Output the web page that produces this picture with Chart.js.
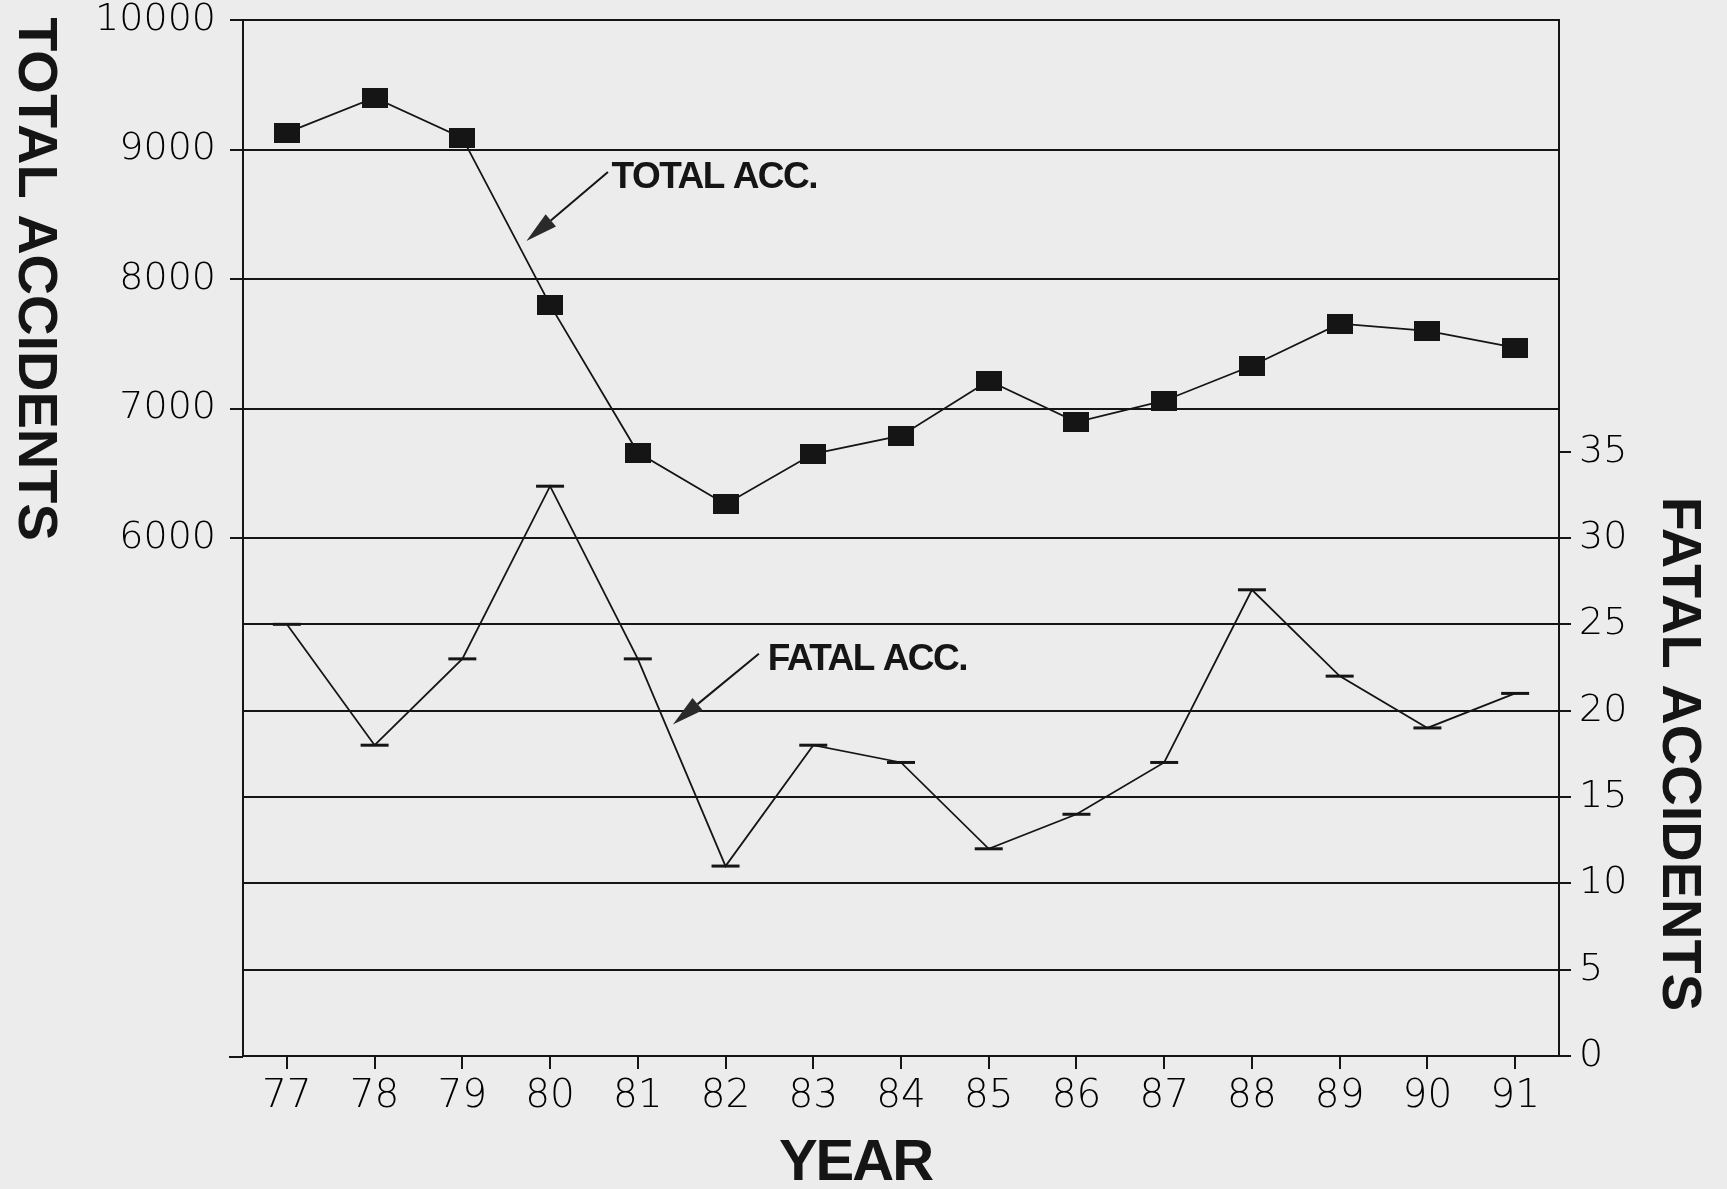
<!DOCTYPE html>
<html>
<head>
<meta charset="utf-8">
<script src="https://cdn.jsdelivr.net/npm/chart.js@4.4.1/dist/chart.umd.min.js"></script>
<style>
  html, body { margin: 0; padding: 0; background: #ececec; }
  #wrap { width: 1727px; height: 1189px; position: relative; }
</style>
</head>
<body>
<div id="wrap"><canvas id="chart"></canvas></div>
<script>
// ── data ────────────────────────────────────────────────
const years = ['77', '78', '79', '80', '81', '82', '83', '84', '85', '86', '87', '88', '89', '90', '91'];
const totalAccidents = [9130, 9400, 9090, 7800, 6660, 6260, 6650, 6790, 7215, 6895, 7060, 7330, 7655, 7600, 7470];
const fatalAccidents = [25, 18, 23, 33, 23, 11, 18, 17, 12, 14, 17, 27, 22, 19, 21];

// axis ranges and the part of each axis that is labelled
const totalAxis = { min: 2000, max: 10000, step: 1000, labelFrom: 6000 };
const fatalAxis = { min: 0, max: 60, step: 5, labelTo: 35, lineTo: 30 };

// callouts: [text, label x (category index), label baseline, arrow tail x, tail y, tip x, tip y, axis]
const callouts = [
  ['TOTAL ACC.', 3.70, 8703, 3.66, 8826, 2.73, 8293, 'y'],
  ['FATAL ACC.', 5.48, 22.35, 5.38, 23.3, 4.40, 19.2, 'y1'],
];

const INK = '#151515';
const TICK_FONT = '"DejaVu Sans", "Liberation Sans", sans-serif';
const TICK_INK = '#000';

// filled square marker, a bit wider than tall
const squareMark = document.createElement('canvas');
squareMark.width = 26;
squareMark.height = 20;
(() => {
  const c = squareMark.getContext('2d');
  c.fillStyle = INK;
  c.fillRect(0, 0, 26, 20);
})();

function arrow(ctx, x0, y0, x1, y1) {
  const ang = Math.atan2(y1 - y0, x1 - x0);
  const len = 32, half = 8;
  const bx = x1 - Math.cos(ang) * len, by = y1 - Math.sin(ang) * len;
  ctx.beginPath();
  ctx.moveTo(x0, y0);
  ctx.lineTo(bx, by);
  ctx.lineWidth = 2;
  ctx.strokeStyle = INK;
  ctx.stroke();
  ctx.beginPath();
  ctx.moveTo(x1, y1);
  ctx.lineTo(bx - Math.sin(ang) * half, by + Math.cos(ang) * half);
  ctx.lineTo(bx + Math.sin(ang) * half, by - Math.cos(ang) * half);
  ctx.closePath();
  ctx.fillStyle = '#2a2a2a';
  ctx.fill();
}

const paperPlugin = {
  id: 'paper',
  beforeDraw(chart) {
    const ctx = chart.ctx;
    ctx.save();
    ctx.fillStyle = '#ececec';
    ctx.fillRect(0, 0, chart.width, chart.height);
    ctx.restore();
  },
};

const labelsPlugin = {
  id: 'labels',
  afterDatasetsDraw(chart) {
    const { ctx, scales } = chart;
    const x = scales.x, y = scales.y, y1 = scales.y1;
    ctx.save();
    ctx.fillStyle = INK;

    // x axis line runs a little past the left axis
    ctx.beginPath();
    ctx.moveTo(x.left - 14, x.top + 1);
    ctx.lineTo(x.left, x.top + 1);
    ctx.lineWidth = 2;
    ctx.strokeStyle = INK;
    ctx.stroke();

    // callouts with arrows
    ctx.font = 'bold 37px "Liberation Sans", Arial, sans-serif';
    ctx.letterSpacing = '-1.5px';
    ctx.textBaseline = 'alphabetic';
    ctx.textAlign = 'left';
    callouts.forEach(([text, lx, ly, tx, ty, hx, hy, axis]) => {
      const s = scales[axis];
      arrow(ctx, x.getPixelForValue(tx), s.getPixelForValue(ty), x.getPixelForValue(hx), s.getPixelForValue(hy));
      ctx.fillStyle = INK;
      ctx.fillText(text, x.getPixelForValue(lx), s.getPixelForValue(ly));
    });

    // axis titles, both turned clockwise
    ctx.font = 'bold 56px "Liberation Sans", Arial, sans-serif';
    ctx.letterSpacing = '0px';
    ctx.textAlign = 'center';
    const leftMid = (y.getPixelForValue(totalAxis.max) + y.getPixelForValue(totalAxis.labelFrom)) / 2;
    ctx.save();
    ctx.translate(19, leftMid);
    ctx.rotate(Math.PI / 2);
    ctx.fillText('TOTAL ACCIDENTS', 0, 0);
    ctx.restore();

    const rightMid = (y1.getPixelForValue(fatalAxis.labelTo) + y1.getPixelForValue(0)) / 2;
    ctx.save();
    ctx.translate(y1.right - 64, rightMid);
    ctx.rotate(Math.PI / 2);
    ctx.fillText('FATAL ACCIDENTS', 0, 0);
    ctx.restore();

    ctx.font = 'bold 58px "Liberation Sans", Arial, sans-serif';
    ctx.letterSpacing = '-2px';
    ctx.fillText('YEAR', chart.width / 2 - 8, chart.height - 9);
    ctx.restore();
  },
};

new Chart(document.getElementById('chart'), {
  type: 'line',
  data: {
    labels: years,
    datasets: [
      {
        label: 'TOTAL ACC.',
        data: totalAccidents,
        yAxisID: 'y',
        borderColor: INK,
        borderWidth: 1.8,
        pointStyle: squareMark,
        pointRadius: 13,
        tension: 0,
      },
      {
        label: 'FATAL ACC.',
        data: fatalAccidents,
        yAxisID: 'y1',
        borderColor: INK,
        borderWidth: 1.8,
        pointStyle: 'line',
        pointRadius: 14,
        pointBorderWidth: 3,
        pointBorderColor: INK,
        tension: 0,
      },
    ],
  },
  options: {
    responsive: true,
    maintainAspectRatio: false,
    animation: false,
    layout: { padding: { top: 20, left: 0, right: 0, bottom: 0 } },
    plugins: { legend: { display: false }, tooltip: { enabled: false } },
    scales: {
      x: {
        type: 'category',
        offset: true,
        grid: { drawOnChartArea: false, drawTicks: true, tickLength: 13, color: INK, lineWidth: 2 },
        border: { display: true, color: INK, width: 2 },
        ticks: { color: TICK_INK, padding: 4, font: { family: TICK_FONT, size: 39, weight: 300 }, maxRotation: 0, autoSkip: false },
        afterFit: s => { s.height = 133; s.paddingLeft = 0; s.paddingRight = 0; },
      },
      y: {
        position: 'left',
        min: totalAxis.min,
        max: totalAxis.max,
        ticks: {
          stepSize: totalAxis.step,
          color: TICK_INK,
          padding: 14,
          font: { family: TICK_FONT, size: 38, weight: 300 },
          callback: v => (v >= totalAxis.labelFrom ? String(v) : null),
        },
        grid: { color: INK, lineWidth: 2, tickLength: 13 },
        border: { display: true, color: INK, width: 2 },
        afterFit: s => { s.width = 243; s.paddingTop = 0; s.paddingBottom = 0; },
      },
      y1: {
        position: 'right',
        min: fatalAxis.min,
        max: fatalAxis.max,
        ticks: {
          stepSize: fatalAxis.step,
          color: TICK_INK,
          padding: 8,
          font: { family: TICK_FONT, size: 38, weight: 300 },
          callback: v => (v <= fatalAxis.labelTo ? String(v) : null),
        },
        grid: {
          color: c => (c.tick && c.tick.value <= fatalAxis.lineTo ? INK : 'rgba(0,0,0,0)'),
          tickColor: INK,
          lineWidth: 2,
          tickLength: 12,
        },
        border: { display: true, color: INK, width: 2 },
        afterFit: s => { s.width = 168; s.paddingTop = 0; s.paddingBottom = 0; },
      },
    },
  },
  plugins: [paperPlugin, labelsPlugin],
});
</script>
</body>
</html>
